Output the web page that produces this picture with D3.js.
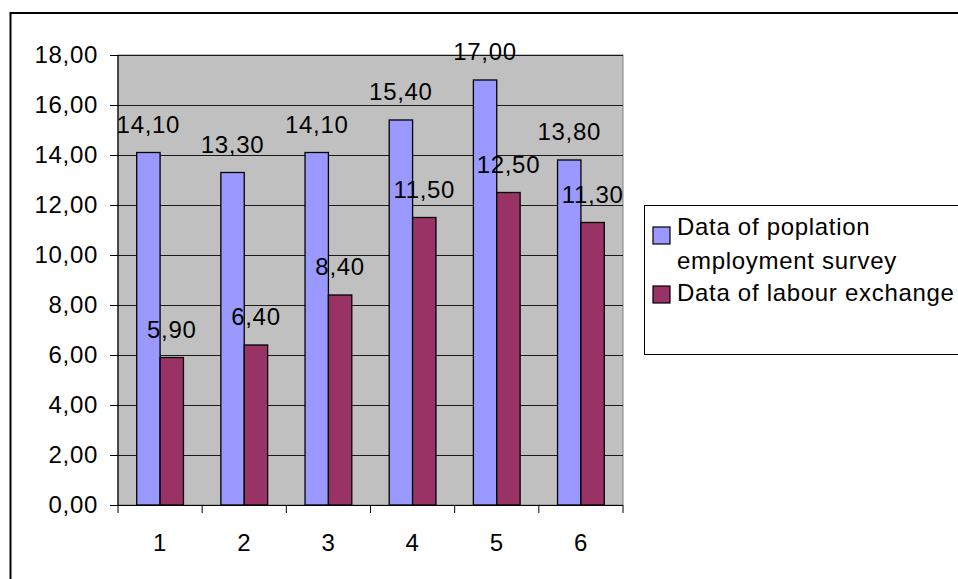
<!DOCTYPE html>
<html>
<head>
<meta charset="utf-8">
<script src="https://cdn.jsdelivr.net/npm/d3@7"></script>
<style>
  html, body { margin: 0; padding: 0; background: #fff; }
  svg { display: block; font-family: Arial, "Liberation Sans", sans-serif; }
  svg text { letter-spacing: 0.7px; }
</style>
</head>
<body>
<svg id="chart" width="958" height="579"></svg>
<script>
// Chart data
const categories = ["1", "2", "3", "4", "5", "6"];
const surveyValues = [14.1, 13.3, 14.1, 15.4, 17.0, 13.8];
const exchangeValues = [5.9, 6.4, 8.4, 11.5, 12.5, 11.3];
const seriesNames = ["Data of poplation employment survey", "Data of labour exchange"];
const yTicks = [0, 2, 4, 6, 8, 10, 12, 14, 16, 18];

const colors = ["#9999FF", "#993366"];
const fmt = v => v.toFixed(2).replace(".", ",");
const FONT = 24;

const svg = d3.select("#chart");

// Outer chart frame (runs off the right and bottom edges)
svg.append("rect")
  .attr("x", 10.5).attr("y", 13)
  .attr("width", 1000).attr("height", 1000)
  .attr("fill", "none").attr("stroke", "#000").attr("stroke-width", 2);

const plot = { left: 118, top: 55, right: 623, bottom: 505 };

const x = d3.scaleBand()
  .domain(categories)
  .range([plot.left, plot.right])
  .paddingInner(0).paddingOuter(0);

const y = d3.scaleLinear()
  .domain([0, 18])
  .range([plot.bottom, plot.top]);

// Plot background
svg.append("rect")
  .attr("x", plot.left).attr("y", plot.top)
  .attr("width", plot.right - plot.left).attr("height", plot.bottom - plot.top)
  .attr("fill", "#C0C0C0")
  .attr("stroke", "#808080").attr("stroke-width", 1);

// Horizontal gridlines
svg.append("g")
  .selectAll("line")
  .data(yTicks.filter(t => t > 0))
  .join("line")
  .attr("x1", plot.left).attr("x2", plot.right)
  .attr("y1", d => y(d) + 0.5).attr("y2", d => y(d) + 0.5)
  .attr("stroke", "#1a1a1a").attr("stroke-width", 1);

// Bars: two series within each category
const barW = x.bandwidth() / 3.6;
const offset = barW * 0.8;
const series = [surveyValues, exchangeValues];

series.forEach((vals, si) => {
  svg.append("g")
    .selectAll("rect")
    .data(vals)
    .join("rect")
    .attr("x", (d, i) => x(categories[i]) + offset + si * barW)
    .attr("y", d => y(d))
    .attr("width", barW)
    .attr("height", d => y(0) - y(d))
    .attr("fill", colors[si])
    .attr("stroke", "#000").attr("stroke-width", 1.3);
});

// Value labels above each bar
series.forEach((vals, si) => {
  svg.append("g")
    .selectAll("text")
    .data(vals)
    .join("text")
    .attr("x", (d, i) => x(categories[i]) + offset + si * barW + barW / 2)
    .attr("y", d => y(d) - 20)
    .attr("text-anchor", "middle")
    .attr("font-size", FONT)
    .attr("fill", "#000")
    .text(d => fmt(d));
});

// Y axis
const yAxis = d3.axisLeft(y)
  .tickValues(yTicks)
  .tickSize(8)
  .tickPadding(12)
  .tickFormat(fmt);
const gy = svg.append("g")
  .attr("transform", `translate(${plot.left},0)`)
  .call(yAxis);
gy.select(".domain").attr("stroke", "#000").attr("stroke-width", 1.2).attr("d", `M0,${plot.top}V${plot.bottom}`);
gy.selectAll(".tick line").attr("stroke", "#000");
gy.selectAll(".tick text").attr("font-size", FONT).attr("fill", "#000")
  .attr("font-family", "Arial, 'Liberation Sans', sans-serif");

// X axis: ticks on category boundaries, labels centered
const gx = svg.append("g")
  .attr("transform", `translate(0,${plot.bottom})`);
gx.append("line")
  .attr("x1", plot.left - 8).attr("x2", plot.right)
  .attr("y1", 0.5).attr("y2", 0.5)
  .attr("stroke", "#000").attr("stroke-width", 1.2);
const boundaries = categories.map(c => x(c)).concat([plot.right]);
gx.selectAll("line.tk")
  .data(boundaries)
  .join("line")
  .attr("class", "tk")
  .attr("x1", d => d).attr("x2", d => d)
  .attr("y1", 0).attr("y2", 8)
  .attr("stroke", "#000");
gx.selectAll("text")
  .data(categories)
  .join("text")
  .attr("x", d => x(d) + x.bandwidth() / 2)
  .attr("y", 46)
  .attr("text-anchor", "middle")
  .attr("font-size", FONT)
  .attr("fill", "#000")
  .text(d => d);

// Legend
const legend = svg.append("g");
legend.append("rect")
  .attr("x", 644.5).attr("y", 205.5)
  .attr("width", 400).attr("height", 149)
  .attr("fill", "#fff").attr("stroke", "#000").attr("stroke-width", 1);

const legendItems = [
  { lines: ["Data of poplation", "employment survey"], color: colors[0], sy: 227, ty: 235 },
  { lines: ["Data of labour exchange"], color: colors[1], sy: 286, ty: 301 }
];
legendItems.forEach((it, i) => {
  legend.append("rect")
    .attr("x", 653).attr("y", it.sy)
    .attr("width", 17).attr("height", 17)
    .attr("fill", it.color).attr("stroke", "#000").attr("stroke-width", 1.2);
  const t = legend.append("text")
    .attr("x", 677).attr("y", it.ty)
    .attr("font-size", FONT).attr("fill", "#000");
  it.lines.forEach((ln, j) => {
    t.append("tspan").attr("x", 677).attr("dy", j === 0 ? 0 : 34).text(ln);
  });
});
</script>
</body>
</html>
